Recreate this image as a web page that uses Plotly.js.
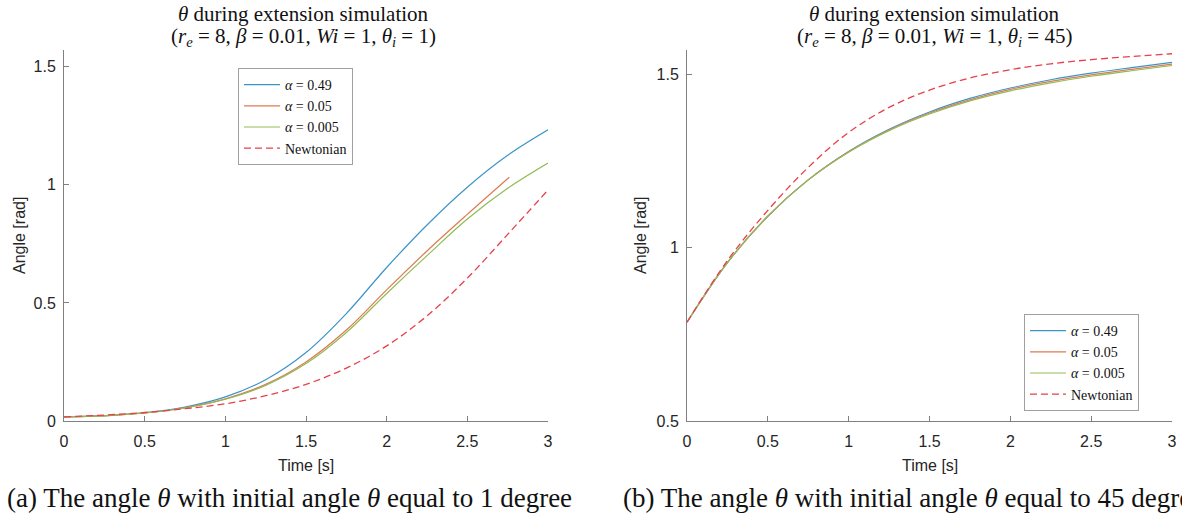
<!DOCTYPE html>
<html>
<head>
<meta charset="utf-8">
<script src="https://cdn.plot.ly/plotly-3.0.1.min.js"></script>
<style>
  html, body { margin: 0; padding: 0; background: #ffffff; }
  #chart { width: 1182px; height: 519px; }
</style>
</head>
<body>
<div id="chart"></div>
<script>
// Time samples [s]
const timeA = [0, 0.25, 0.5, 0.75, 1, 1.25, 1.5, 1.75, 2, 2.25, 2.5, 2.75, 3];
const timeA05 = [0, 0.25, 0.5, 0.75, 1, 1.25, 1.5, 1.75, 2, 2.25, 2.5, 2.76];
const timeB = [0, 0.25, 0.5, 0.75, 1, 1.25, 1.5, 1.75, 2, 2.25, 2.5, 2.75, 3];

// (a) initial angle 1 degree — angle [rad]
const a049 = [0.0175, 0.023, 0.035, 0.059, 0.102, 0.175, 0.29, 0.455, 0.65, 0.83, 0.99, 1.125, 1.233];
const a005 = [0.0175, 0.022, 0.034, 0.056, 0.094, 0.155, 0.25, 0.385, 0.555, 0.72, 0.875, 1.032];
const a0005 = [0.0175, 0.022, 0.034, 0.055, 0.092, 0.151, 0.243, 0.375, 0.54, 0.70, 0.855, 0.985, 1.092];
const aNewt = [0.0175, 0.025, 0.036, 0.052, 0.073, 0.107, 0.155, 0.224, 0.318, 0.445, 0.605, 0.79, 0.978];

// (b) initial angle 45 degrees — angle [rad]
const b049 = [0.785, 0.957, 1.091, 1.196, 1.278, 1.342, 1.392, 1.431, 1.461, 1.485, 1.504, 1.520, 1.535];
const b005 = [0.785, 0.957, 1.091, 1.196, 1.277, 1.340, 1.389, 1.427, 1.457, 1.480, 1.499, 1.515, 1.530];
const b0005 = [0.785, 0.957, 1.091, 1.196, 1.276, 1.338, 1.386, 1.424, 1.453, 1.476, 1.495, 1.511, 1.526];
const bNewt = [0.785, 0.963, 1.108, 1.232, 1.333, 1.405, 1.455, 1.490, 1.514, 1.531, 1.543, 1.552, 1.560];

const seriesNames = ['<i>α</i> = 0.49', '<i>α</i> = 0.05', '<i>α</i> = 0.005', 'Newtonian'];
const seriesColors = ['#3d95c6', '#dd7a52', '#92bb55', '#e8404a'];

const serif = 'Liberation Serif, Times New Roman, serif';
const sans = 'Liberation Sans, Arial, sans-serif';

function line(x, y, i, xa, ya, lg) {
  return {
    x: x, y: y, type: 'scatter', mode: 'lines',
    name: seriesNames[i], xaxis: xa, yaxis: ya, legend: lg,
    line: { color: seriesColors[i], width: i === 3 ? 1.3 : 1.2, shape: 'spline', smoothing: 1,
            dash: i === 3 ? '7px,4px' : 'solid' },
    hoverinfo: 'skip'
  };
}

const traces = [
  line(timeA, a049, 0, 'x', 'y', 'legend'),
  line(timeA05, a005, 1, 'x', 'y', 'legend'),
  line(timeA, a0005, 2, 'x', 'y', 'legend'),
  line(timeA, aNewt, 3, 'x', 'y', 'legend'),
  line(timeB, b049, 0, 'x2', 'y2', 'legend2'),
  line(timeB, b005, 1, 'x2', 'y2', 'legend2'),
  line(timeB, b0005, 2, 'x2', 'y2', 'legend2'),
  line(timeB, bNewt, 3, 'x2', 'y2', 'legend2')
];

const W = 1182, H = 519;
const px = v => v / W;
const py = v => 1 - v / H;

const axisCommon = {
  showline: true, linecolor: '#808080', linewidth: 1,
  ticks: 'inside', ticklen: 5, tickwidth: 1, tickcolor: '#808080',
  showgrid: false, zeroline: false, mirror: false,
  tickfont: { family: sans, size: 16, color: '#262626' },
  fixedrange: true
};

const xTicks = [0, 0.5, 1, 1.5, 2, 2.5, 3];

const legendCommon = {
  bgcolor: '#ffffff', bordercolor: '#a0a0a0', borderwidth: 1,
  font: { family: serif, size: 14, color: '#111111' },
  xanchor: 'left', yanchor: 'top', tracegroupgap: 0, itemwidth: 36
};

const titleFont = { family: serif, size: 21, color: '#111111' };
const labelFont = { family: sans, size: 16, color: '#262626' };
const captionFont = { family: serif, size: 27, color: '#111111' };

function note(text, x, y, font, extra) {
  return Object.assign({ text: text, x: px(x), y: py(y), xref: 'paper', yref: 'paper',
    xanchor: 'center', yanchor: 'middle', showarrow: false, font: font }, extra || {});
}

const layout = {
  width: W, height: H,
  margin: { l: 0, r: 0, t: 0, b: 0 },
  paper_bgcolor: '#ffffff', plot_bgcolor: '#ffffff',
  showlegend: true,
  xaxis: Object.assign({}, axisCommon, {
    domain: [px(64), px(548)], range: [0, 3], tickvals: xTicks, anchor: 'y', ticklabelstandoff: 6
  }),
  yaxis: Object.assign({}, axisCommon, {
    domain: [py(421), py(50)], range: [0, 1.5708], tickvals: [0, 0.5, 1, 1.5], anchor: 'x', ticklabelstandoff: 4
  }),
  xaxis2: Object.assign({}, axisCommon, {
    domain: [px(687), px(1172)], range: [0, 3], tickvals: xTicks, anchor: 'y2', ticklabelstandoff: 6
  }),
  yaxis2: Object.assign({}, axisCommon, {
    domain: [py(421), py(50)], range: [0.5, 1.5708], tickvals: [0.5, 1, 1.5], anchor: 'x2', ticklabelstandoff: 4
  }),
  legend: Object.assign({}, legendCommon, { x: px(238), y: py(68) }),
  legend2: Object.assign({}, legendCommon, { x: px(1024), y: py(314) }),
  annotations: [
    note('<i>θ</i> during extension simulation', 304, 14, titleFont),
    note('(<i>r<sub>e</sub></i> = 8, <i>β</i> = 0.01, <i>Wi</i> = 1, <i>θ<sub>i</sub></i> = 1)', 304, 37, titleFont),
    note('<i>θ</i> during extension simulation', 935, 14, titleFont),
    note('(<i>r<sub>e</sub></i> = 8, <i>β</i> = 0.01, <i>Wi</i> = 1, <i>θ<sub>i</sub></i> = 45)', 935, 37, titleFont),
    note('Time [s]', 306, 465, labelFont),
    note('Time [s]', 930, 465, labelFont),
    note('Angle [rad]', 20, 236, labelFont, { textangle: -90 }),
    note('Angle [rad]', 641, 236, labelFont, { textangle: -90 }),
    note('(a) The angle <i>θ</i> with initial angle <i>θ</i> equal to 1 degree', 5, 498, captionFont, { xanchor: 'left' }),
    note('(b) The angle <i>θ</i> with initial angle <i>θ</i> equal to 45 degrees', 621, 498, captionFont, { xanchor: 'left' })
  ]
};

Plotly.newPlot('chart', traces, layout, { staticPlot: true, displayModeBar: false });
</script>
</body>
</html>
